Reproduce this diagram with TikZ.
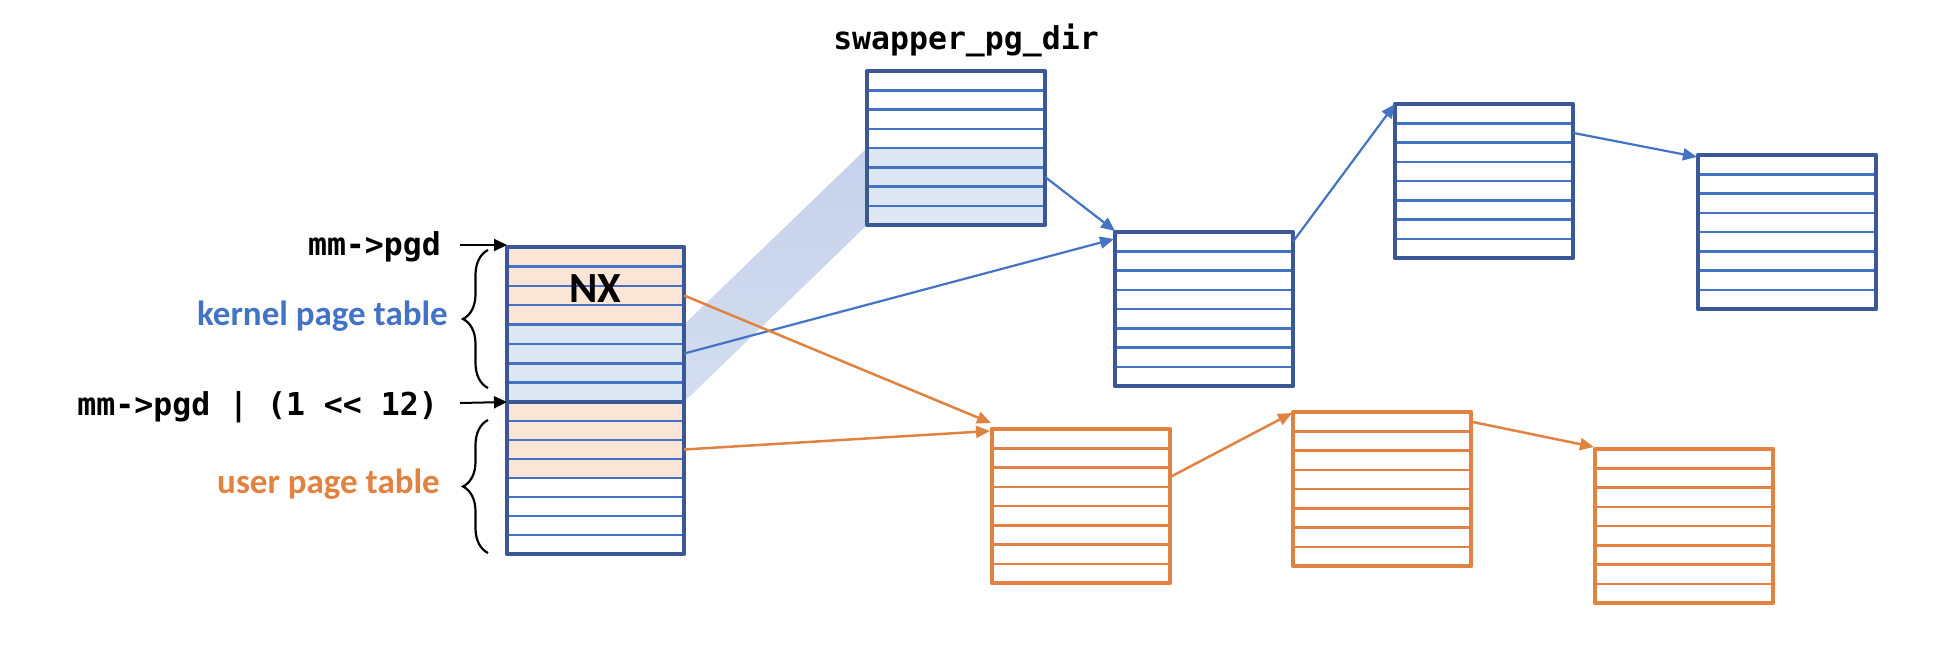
\documentclass[tikz,border=0pt]{standalone}
\usepackage{fontspec}
\setmainfont{Carlito}
\newfontfamily\mono{DejaVu Sans Mono}
\usetikzlibrary{arrows.meta,decorations.pathreplacing,calc}
\definecolor{bdark}{RGB}{59,87,150}
\definecolor{bline}{RGB}{68,114,196}
\definecolor{orng}{RGB}{226,130,65}
\definecolor{lblue}{RGB}{222,232,245}
\definecolor{peach}{RGB}{250,229,214}
\definecolor{bandA}{RGB}{212,221,240}
\definecolor{bandB}{RGB}{176,193,228}
\newcommand\tabrows[3]{%
  \foreach \i in {1,...,7}{%
    \draw[#2, line width=2.5pt] ($(#1.north west)!\i/8!(#1.south west)$) -- ($(#1.north east)!\i/8!(#1.south east)$);}
  \draw[#3, line width=4.8pt, line join=round] (#1.north west) rectangle (#1.south east);}
\begin{document}
\begin{tikzpicture}[x=1pt,y=-1pt,
  tab/.style={rectangle, anchor=north west, inner sep=0pt, outer sep=0pt, minimum width=178pt, minimum height=154pt},
  barrow/.style={draw=bline, line width=2.2pt, -{Triangle[length=14pt,width=12pt]}},
  oarrow/.style={draw=orng, line width=2.5pt, -{Triangle[length=14pt,width=12pt]}},
  karrow/.style={draw=black, line width=2pt, -{Triangle[length=13pt,width=12pt]}},
  bracestyle/.style={draw=black, line width=2.2pt, decorate, decoration={brace, amplitude=25pt}},
  monolab/.style={font={\mono\bfseries\fontsize{31.5}{32}\selectfont}, inner sep=0pt},
  textlab/.style={font={\bfseries\fontsize{35}{36}\selectfont}, inner sep=0pt}]
\useasboundingbox (0,0) rectangle (1936,646);

% table nodes
\node[tab, minimum width=177pt, minimum height=155pt] (lk) at (507,247) {};
\node[tab, minimum width=177pt, minimum height=152pt] (lu) at (507,402) {};
\node[tab] (swp) at (867,71) {};
\node[tab] (pmd) at (1115,232) {};
\node[tab] (b3) at (1395,104) {};
\node[tab] (b4) at (1698,155) {};
\node[tab] (o1) at (992,429) {};
\node[tab] (o2) at (1293,412) {};
\node[tab] (o3) at (1595,449) {};

% shaded band
\shade[shading angle=-46, top color=bandA!60!bandB, middle color=bandB, bottom color=bandA]
  (lk.east) -- (swp.west) -- (swp.south west) -- (lk.south east) -- cycle;

% fills
\fill[peach] (lk.north west) rectangle (lk.east);
\fill[lblue] (lk.west) rectangle (lk.south east);
\fill[peach] (lu.north west) rectangle (lu.east);
\fill[white] (lu.west) rectangle (lu.south east);
\fill[white] (swp.north west) rectangle (swp.east);
\fill[lblue] (swp.west) rectangle (swp.south east);

% rows and borders
\tabrows{lk}{bline}{bdark}
\tabrows{lu}{bline}{bdark}
\tabrows{swp}{bline}{bdark}
\tabrows{pmd}{bline}{bdark}
\tabrows{b3}{bline}{bdark}
\tabrows{b4}{bline}{bdark}
\tabrows{o1}{orng}{orng}
\tabrows{o2}{orng}{orng}
\tabrows{o3}{orng}{orng}

% NX label
\node[font={\bfseries\fontsize{43}{43}\selectfont}, inner sep=0pt] (nx) at (595,289) {NX};

% labels
\node[monolab, anchor=base] (swpl) at (966,49) {swapper\_pg\_dir};
\node[monolab, anchor=base east] (mmpgd) at (441,255) {mm->pgd};
\node[monolab, anchor=base east] (mmpgd2) at (438,415) {mm->pgd | (1 <{}< 12)};
\node[textlab, anchor=base east, text=bline] (kl) at (448,325) {kernel page table};
\node[textlab, anchor=base east, text=orng] (ul) at (440,493) {user page table};

% braces
\draw[bracestyle] ($(lk.south west)+(-19,-14)$) -- ($(lk.north west)+(-19,3)$);
\draw[bracestyle] ($(lu.south west)+(-19,-1)$) -- ($(lu.north west)+(-19,18)$);

% black pointer arrows
\coordinate (pa) at (460,245);
\coordinate (pb) at (460,403);
\draw[karrow] (pa) -- ($(lk.north west)+(0,-2)$);
\draw[karrow] (pb) -- (lu.north west);

% blue connectors
\draw[barrow] ($(lk.north east)!0.6875!(lk.south east)$) -- ($(pmd.north west)+(-1,7)$);
\draw[barrow] ($(swp.north east)!0.6875!(swp.south east)$) -- ($(pmd.north west)+(0,-1)$);
\draw[barrow] ($(pmd.north east)!0.0625!(pmd.south east)$) -- (b3.north west);
\draw[barrow] ($(b3.north east)!0.1875!(b3.south east)$) -- ($(b4.north west)+(-1,2)$);

% orange connectors
\draw[oarrow] ($(lk.north east)!0.3125!(lk.south east)$) -- ($(o1.north west)+(-1,-6)$);
\draw[oarrow] ($(lu.north east)!0.3125!(lu.south east)$) -- ($(o1.north west)+(-2,2)$);
\draw[oarrow] ($(o1.north east)!0.3125!(o1.south east)$) -- ($(o2.north west)+(-1,1)$);
\draw[oarrow] ($(o2.north east)!0.0625!(o2.south east)$) -- ($(o3.north west)+(-1,-2)$);
\end{tikzpicture}
\end{document}
